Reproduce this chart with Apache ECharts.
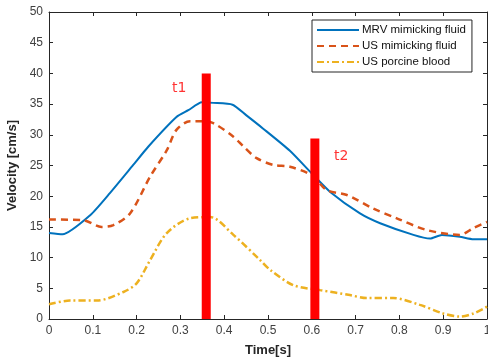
<!DOCTYPE html>
<html>
<head>
<meta charset="utf-8">
<script src="https://cdn.jsdelivr.net/npm/echarts@6/dist/echarts.min.js"></script>
<style>
  html, body { margin: 0; padding: 0; background: #fff; }
  #chart { width: 488px; height: 363px; }
</style>
</head>
<body>
<div id="chart"></div>
<script>
// velocity curves, [time s, velocity cm/s]
const mrvFluid = [
  [0, 14.0], [0.031, 13.8], [0.094, 16.9], [0.139, 20.5], [0.189, 24.8],
  [0.227, 28.1], [0.291, 32.9], [0.318, 34.0], [0.349, 35.3], [0.375, 35.2],
  [0.419, 34.9], [0.45, 33.2], [0.489, 31.0], [0.55, 27.4], [0.6, 23.7],
  [0.642, 20.7], [0.71, 17.2], [0.756, 15.6], [0.832, 13.7], [0.87, 13.1],
  [0.897, 13.7], [0.938, 13.4], [0.969, 13.0], [1.0, 13.0]
];
const usFluid = [
  [0, 16.2], [0.078, 16.1], [0.12, 15.0], [0.147, 15.3], [0.185, 17.2],
  [0.231, 23.2], [0.269, 27.5], [0.291, 30.8], [0.322, 32.2], [0.352, 32.2],
  [0.375, 31.9], [0.421, 29.7], [0.444, 28.1], [0.474, 26.2], [0.512, 25.1],
  [0.55, 24.8], [0.6, 23.4], [0.634, 21.0], [0.68, 20.2], [0.74, 18.0],
  [0.794, 16.4], [0.862, 14.5], [0.938, 13.7], [0.969, 14.8], [1.0, 15.8]
];
const usBlood = [
  [0, 2.4], [0.048, 3.0], [0.109, 3.0], [0.17, 4.4], [0.2, 5.8],
  [0.231, 9.6], [0.269, 14.0], [0.322, 16.4], [0.368, 16.6], [0.421, 13.7],
  [0.482, 9.6], [0.505, 8.0], [0.558, 5.5], [0.619, 4.7], [0.687, 3.9],
  [0.725, 3.4], [0.786, 3.4], [0.847, 2.3], [0.9, 0.9], [0.938, 0.4],
  [0.969, 0.9], [1.0, 2.0]
];
// time markers t1 / t2 (red bars)
const markerNames = ['t1', 't2'];
const markerBars = [[0.359, 40], [0.607, 29.4]];
const markerLabelPos = [[0.297, 37.5], [0.667, 26.5]];

const seriesNames = ['MRV mimicking fluid', 'US mimicking fluid', 'US porcine blood'];

const FONT = '"Liberation Sans", Arial, sans-serif';
const axisCol = '#262626';

const chart = echarts.init(document.getElementById('chart'));

const xBase = {
  type: 'value', min: 0, max: 1, interval: 0.1,
  axisLine: { show: true, onZero: false, lineStyle: { color: axisCol, width: 1 } },
  axisTick: { show: true, inside: true, length: 4, lineStyle: { color: axisCol } },
  splitLine: { show: false }
};
const yBase = {
  type: 'value', min: 0, max: 50, interval: 5,
  axisLine: { show: true, onZero: false, lineStyle: { color: axisCol, width: 1 } },
  axisTick: { show: true, inside: true, length: 4, lineStyle: { color: axisCol } },
  splitLine: { show: false }
};

chart.setOption({
  animation: false,
  textStyle: { fontFamily: FONT },
  grid: { left: 49, right: 1, top: 12, bottom: 44, containLabel: false, outerBoundsMode: 'none' },
  xAxis: [
    Object.assign({}, xBase, {
      position: 'bottom',
      name: 'Time[s]', nameLocation: 'middle', nameGap: 25,
      nameTextStyle: { fontSize: 13, fontWeight: 'bold', color: axisCol, fontFamily: FONT },
      axisLabel: {
        fontSize: 12, color: '#404040', margin: 6, fontFamily: FONT,
        formatter: v => (v === 0 || v === 1) ? String(v) : v.toFixed(1)
      }
    }),
    Object.assign({}, xBase, { position: 'top', axisLabel: { show: false } })
  ],
  yAxis: [
    Object.assign({}, yBase, {
      position: 'left',
      name: 'Velocity [cm/s]', nameLocation: 'middle', nameGap: 28,
      nameTextStyle: { fontSize: 13, fontWeight: 'bold', color: axisCol, fontFamily: FONT },
      axisLabel: { fontSize: 12, color: '#404040', margin: 6, fontFamily: FONT }
    }),
    Object.assign({}, yBase, { position: 'right', axisLabel: { show: false } })
  ],
  legend: {
    orient: 'vertical', left: 312, top: 20,
    data: seriesNames,
    itemWidth: 42, itemHeight: 11, itemGap: 4,
    padding: [4, 6, 4, 4],
    borderColor: axisCol, borderWidth: 1, borderRadius: 0,
    backgroundColor: '#fff',
    itemStyle: { opacity: 0 },
    textStyle: { fontSize: 11.5, color: '#111', fontFamily: FONT, padding: [0, 0, 0, -2] }
  },
  series: [
    {
      name: seriesNames[0], type: 'line', data: mrvFluid, smooth: 0.2,
      symbol: 'none', z: 3,
      lineStyle: { color: '#0072BD', width: 2 }, itemStyle: { color: '#0072BD' }
    },
    {
      name: seriesNames[1], type: 'line', data: usFluid, smooth: 0.3,
      symbol: 'none', z: 3,
      lineStyle: { color: '#D95319', width: 2.5, type: [7, 5] }, itemStyle: { color: '#D95319' }
    },
    {
      name: seriesNames[2], type: 'line', data: usBlood, smooth: 0.3,
      symbol: 'none', z: 3,
      lineStyle: { color: '#EDB120', width: 2.5, type: [7, 3, 2, 3] }, itemStyle: { color: '#EDB120' }
    },
    {
      name: 'markers', type: 'bar', data: markerBars, barWidth: 9, z: 5,
      itemStyle: { color: '#ff0000' }
    },
    {
      name: 'marker labels', type: 'scatter', z: 6,
      data: markerLabelPos.map((p, i) => ({ value: p, name: markerNames[i] })),
      symbolSize: 0.01, itemStyle: { color: 'rgba(0,0,0,0)' },
      label: {
        show: true, position: 'inside', formatter: '{b}',
        color: '#ff0000', fontSize: 14, fontFamily: '"DejaVu Sans", sans-serif'
      }
    }
  ]
});
</script>
</body>
</html>
